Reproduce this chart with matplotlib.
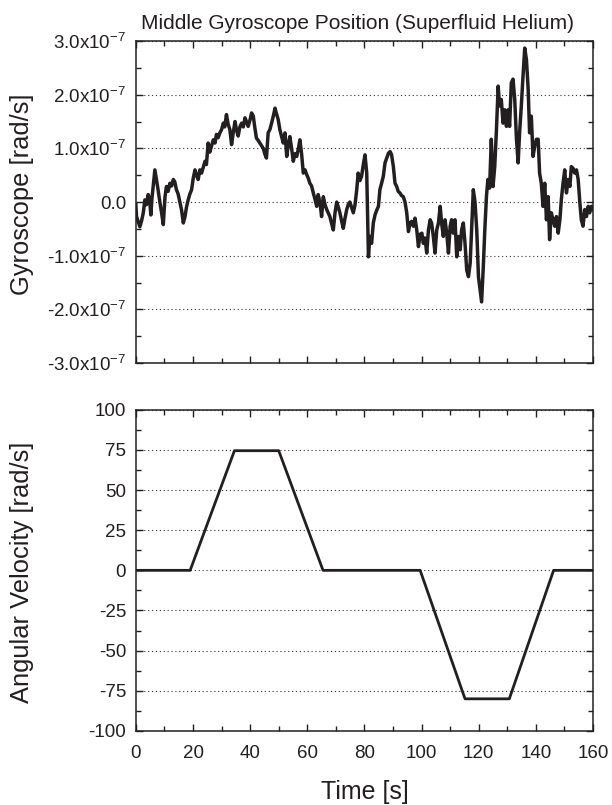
import numpy as np
import matplotlib
matplotlib.use("Agg")
import matplotlib.pyplot as plt
from matplotlib.ticker import MultipleLocator, FixedLocator, FixedFormatter

plt.rcParams['font.family'] = ['Liberation Sans', 'DejaVu Sans']
plt.rcParams['mathtext.fontset'] = 'custom'
plt.rcParams['mathtext.rm'] = 'Liberation Sans'
plt.rcParams['mathtext.it'] = 'Liberation Sans:italic'
plt.rcParams['mathtext.bf'] = 'Liberation Sans:bold'
plt.rcParams['mathtext.default'] = 'regular'

# ---------------- data ----------------
# Gyroscope signal (units of 1e-7 rad/s) (10 per row)
t_gyro = [
    0, 0.23, 1.4, 2.0, 2.6, 3.15, 3.7, 4.3, 4.8, 5.25,
    5.6, 6.07, 6.65, 7.1, 7.6, 8.4, 9.0, 9.6, 10.2, 10.7,
    11.3, 11.9, 12.5, 13.1, 13.6, 14.2, 14.8, 15.4, 16.0, 16.6,
    17.2, 17.7, 18.3, 18.9, 19.5, 20.1, 20.7, 21.2, 21.8, 22.4,
    23.0, 23.6, 24.2, 24.7, 25.3, 25.9, 26.5, 27.1, 27.7, 28.2,
    28.8, 29.4, 30.0, 30.6, 31.1, 31.7, 32.3, 32.9, 33.5, 34.1,
    34.7, 35.2, 35.8, 36.4, 37.0, 37.6, 38.2, 38.7, 39.3, 40.0,
    40.5, 41.1, 41.6, 42.2, 42.8, 43.4, 44.0, 44.6, 45.1, 45.7,
    46.3, 46.9, 47.5, 48.1, 48.7, 49.2, 49.8, 50.4, 51.0, 51.6,
    52.2, 52.8, 53.3, 53.9, 54.5, 55.1, 55.7, 56.3, 56.9, 57.4,
    58.0, 58.6, 59.2, 59.8, 60.3, 60.9, 61.5, 62.1, 62.7, 63.3,
    63.8, 64.4, 65.0, 65.6, 66.2, 66.8, 67.3, 67.9, 68.5, 69.1,
    69.7, 70.3, 70.9, 71.4, 72.0, 72.6, 73.2, 73.8, 74.3, 74.9,
    75.5, 76.1, 76.7, 77.3, 77.8, 78.4, 79.0, 79.6, 80.2, 80.8,
    81.4, 81.9, 82.5, 83.1, 83.7, 84.3, 84.9, 85.4, 86.0, 86.6,
    87.2, 87.8, 88.4, 89.0, 89.5, 90.1, 90.7, 91.3, 91.8, 92.4,
    93.0, 93.6, 94.2, 94.8, 95.4, 95.9, 96.5, 97.1, 97.7, 98.3,
    98.9, 99.5, 100.1, 100.6, 101.2, 101.8, 102.4, 103.0, 103.5, 104.1,
    104.7, 105.3, 105.9, 106.5, 107.0, 107.6, 108.2, 108.8, 109.4, 110.0,
    110.5, 111.1, 111.7, 112.3, 112.9, 113.5, 114.0, 114.6, 115.2, 115.8,
    116.4, 117.0, 117.5, 118.1, 118.7, 119.3, 119.9, 120.5, 121.0, 121.6,
    122.1, 122.7, 123.2, 123.8, 124.4, 125.0, 125.6, 126.2, 126.8, 127.3,
    127.9, 128.5, 129.1, 129.7, 130.3, 130.8, 131.4, 132.0, 132.6, 133.2,
    133.8, 134.3, 134.9, 135.5, 136.1, 136.7, 137.3, 137.8, 138.4, 139.0,
    139.6, 140.2, 140.8, 141.3, 141.9, 142.5, 143.1, 143.7, 144.3, 144.8,
    145.4, 146.0, 146.6, 147.2, 147.8, 148.4, 148.9, 149.5, 150.1, 150.7,
    151.3, 151.9, 152.4, 153.0, 153.6, 154.2, 154.8, 155.4, 155.9, 156.5,
    157.1, 157.7, 158.3, 158.8, 159.4, 160.0]
gyro = [
    -0.05, -0.27, -0.46, -0.35, -0.2, 0.04, -0.05, 0.14, 0.05, -0.24,
    0.05, 0.3, 0.6, 0.45, 0.29, 0.0, -0.2, -0.42, 0.1, 0.29,
    0.2, 0.35, 0.3, 0.42, 0.38, 0.23, 0.15, 0.0, -0.15, -0.39,
    -0.27, -0.1, 0.04, 0.15, 0.23, 0.45, 0.6, 0.5, 0.42, 0.6,
    0.54, 0.65, 0.76, 0.7, 1.1, 0.93, 1.05, 1.16, 1.1, 1.26,
    1.2, 1.29, 1.35, 1.47, 1.4, 1.63, 1.45, 1.35, 1.07, 1.3,
    1.5, 1.35, 1.23, 1.4, 1.47, 1.4, 1.57, 1.5, 1.41, 1.54,
    1.66, 1.6, 1.4, 1.19, 1.15, 1.1, 1.05, 1.0, 0.9, 0.82,
    1.29, 1.35, 1.47, 1.6, 1.75, 1.65, 1.54, 1.35, 1.22, 1.1,
    1.29, 0.85, 1.05, 1.22, 1.0, 0.76, 0.9, 0.85, 1.0, 1.16,
    0.9, 0.54, 0.6, 0.51, 0.45, 0.35, 0.3, 0.17, 0.05, -0.08,
    0.14, 0.0, -0.27, 0.1, -0.05, -0.14, -0.2, -0.27, -0.4, -0.52,
    -0.2, 0.0, -0.1, -0.2, -0.35, -0.49, -0.3, -0.14, -0.05, 0.0,
    -0.1, -0.2, -0.05, 0.23, 0.54, 0.4, 0.48, 0.7, 0.88, 0.54,
    -1.02, -0.64, -0.77, -0.39, -0.24, -0.15, -0.08, 0.23, 0.35, 0.48,
    0.73, 0.82, 0.91, 0.94, 0.88, 0.67, 0.35, 0.29, 0.2, 0.17,
    0.12, 0.1, 0.0, -0.2, -0.55, -0.4, -0.36, -0.45, -0.3, -0.52,
    -0.83, -0.6, -0.58, -0.77, -0.67, -0.95, -0.52, -0.33, -0.39, -0.64,
    -0.95, -0.52, -0.39, -0.08, -0.39, -0.64, -0.33, -0.58, -0.95, -0.45,
    -0.33, -0.58, -0.33, -1.02, -0.64, -0.89, -0.52, -0.39, -0.77, -1.27,
    -1.39, -1.14, -0.52, 0.23, 0.0, -0.52, -1.39, -1.64, -1.86, -1.2,
    -0.55, 0.11, 0.42, 0.26, 1.17, 0.29, 0.66, 1.35, 2.16, 1.79,
    1.91, 1.47, 1.72, 1.41, 1.72, 1.41, 2.22, 2.29, 1.91, 1.17,
    0.73, 1.29, 1.79, 2.35, 2.87, 2.65, 2.1, 1.29, 1.6, 0.85,
    1.04, 1.17, 1.17, 0.54, 0.35, -0.08, 0.35, -0.33, 0.1, -0.7,
    -0.2, -0.33, -0.45, -0.27, -0.58, -0.33, 0.04, 0.35, 0.6, 0.17,
    0.42, 0.29, 0.66, 0.63, 0.54, 0.6, 0.42, -0.02, -0.33, -0.45,
    -0.14, -0.27, -0.08, -0.2, -0.08, -0.14]

# Angular velocity profile (rad/s)
t_vel = [0, 19.0, 34.5, 50.0, 65.5, 99.5, 115.2, 130.7, 146.2, 160]
vel = [0, 0, 74.5, 74.5, 0, 0, -80, -80, 0, 0]

gyro_ticks = [-3, -2, -1, 0, 1, 2, 3]
gyro_ticklabels = ['-3.0x10$^{-7}$', '-2.0x10$^{-7}$', '-1.0x10$^{-7}$', '0.0',
                   '1.0x10$^{-7}$', '2.0x10$^{-7}$', '3.0x10$^{-7}$']
vel_ticks = [-100, -75, -50, -25, 0, 25, 50, 75, 100]
time_ticks = [0, 20, 40, 60, 80, 100, 120, 140, 160]

title = 'Middle Gyroscope Position (Superfluid Helium)'

# ---------------- figure ----------------
fig = plt.figure(figsize=(6.12, 8.05), dpi=100)
ax1 = fig.add_axes([0.222, 0.549, 0.747, 0.400])
ax2 = fig.add_axes([0.222, 0.092, 0.747, 0.399])

lc = '#231f20'
for ax in (ax1, ax2):
    for s in ax.spines.values():
        s.set_linewidth(1.1)
        s.set_color(lc)
    ax.tick_params(which='both', direction='in', top=True, right=True,
                   colors=lc, labelcolor='#231f20', labelsize=13.5)
    ax.tick_params(axis='y', which='major', pad=7)
    ax.tick_params(axis='x', which='major', pad=10)
    ax.tick_params(which='major', length=5, width=1.0)
    ax.tick_params(which='minor', length=3.5, width=1.0)
    ax.set_xlim(0, 160)
    ax.xaxis.set_major_locator(FixedLocator(time_ticks))
    ax.xaxis.set_minor_locator(MultipleLocator(10))
    ax.grid(axis='y', which='major', linestyle=(0, (1, 2.5)), color='#333333',
            linewidth=0.8)

ax1.plot(t_gyro, gyro, color=lc, linewidth=2.5)
ax1.set_ylim(-3, 3)
ax1.yaxis.set_major_locator(FixedLocator(gyro_ticks))
ax1.yaxis.set_major_formatter(FixedFormatter(gyro_ticklabels))
ax1.yaxis.set_minor_locator(MultipleLocator(0.5))
ax1.tick_params(axis='x', labelbottom=False)
ax1.set_ylabel('Gyroscope [rad/s]', fontsize=18.4, color=lc)
ax1.yaxis.set_label_coords(-0.223, 0.525)
ax1.set_title(title, fontsize=15, color=lc, pad=9, x=0.485)

ax2.plot(t_vel, vel, color=lc, linewidth=2.0)
ax2.set_ylim(-100, 100)
ax2.yaxis.set_major_locator(FixedLocator(vel_ticks))
ax2.yaxis.set_major_formatter(FixedFormatter([str(v) for v in vel_ticks]))
ax2.yaxis.set_minor_locator(MultipleLocator(12.5))
ax2.set_xlabel('Time [s]', fontsize=18, color=lc)
ax2.xaxis.set_label_coords(0.5, -0.153)
ax2.set_ylabel('Angular Velocity [rad/s]', fontsize=18.4, color=lc)
ax2.yaxis.set_label_coords(-0.223, 0.494)

fig.savefig('out.png', dpi=100)
